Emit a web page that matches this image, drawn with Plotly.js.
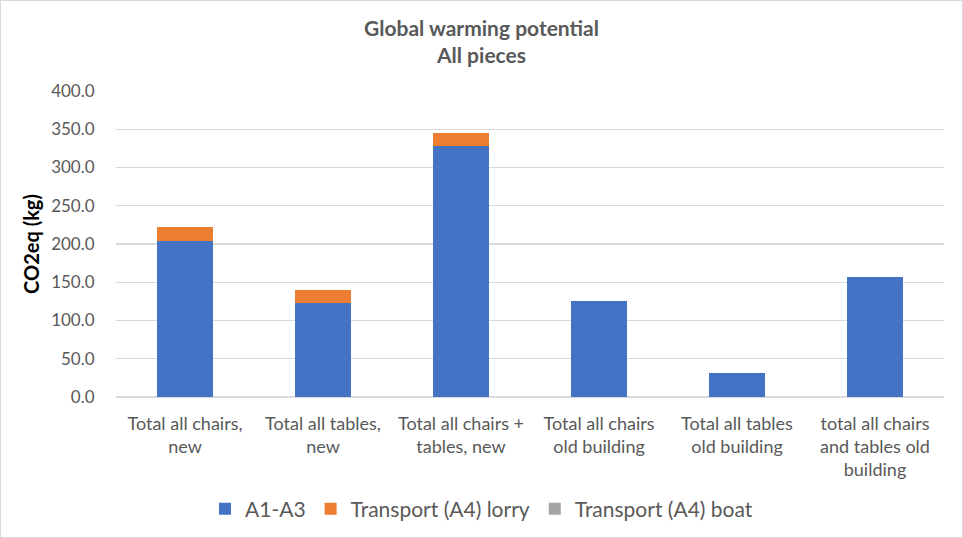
<!DOCTYPE html>
<html>
<head>
<meta charset="utf-8">
<script src="https://cdn.plot.ly/plotly-3.0.1.min.js"></script>
<style>
html,body{margin:0;padding:0;background:#fff;}
#chart{width:961px;height:536px;border:1px solid #d9d9d9;}
</style>
</head>
<body>
<div id="chart"></div>
<script>
const categories = [
  "Total all chairs,<br>new",
  "Total all tables,<br>new",
  "Total all chairs +<br>tables, new",
  "Total all chairs<br>old building",
  "Total all tables<br>old building",
  "total all chairs<br>and tables old<br>building"
];
const a1a3 = [204.0, 122.9, 328.1, 126.0, 31.0, 156.5];
const lorry = [18.2, 16.6, 17.0, 0, 0, 0];
const boat = [0, 0, 0, 0, 0, 0];
const seriesNames = ["A1-A3", "Transport (A4) lorry", "Transport (A4) boat"];
const yTicks = [0, 50, 100, 150, 200, 250, 300, 350, 400];

const font = "Lato, 'Open Sans', sans-serif";
const grey = "#595959";

const traces = [
  {type:"bar", name:seriesNames[0], x:categories, y:a1a3, marker:{color:"#4472c4"}},
  {type:"bar", name:seriesNames[1], x:categories, y:lorry, marker:{color:"#ed7d31"}},
  {type:"bar", name:seriesNames[2], x:categories, y:boat, marker:{color:"#a5a5a5"}}
];

const layout = {
  width:961, height:536,
  barmode:"stack",
  bargap:0.6,
  paper_bgcolor:"#fff", plot_bgcolor:"#fff",
  margin:{l:115, r:18, t:90, b:140},
  font:{family:font, size:18, color:grey},
  title:{
    text:"<b>Global warming potential<br>All pieces</b>",
    x:0.5, xref:"container", xanchor:"center",
    y:0.935, yref:"container", yanchor:"middle",
    font:{family:font, size:21, color:grey}
  },
  xaxis:{
    type:"category",
    showgrid:false, zeroline:false, showline:false,
    ticks:"outside", ticklen:10, tickcolor:"rgba(0,0,0,0)",
    tickfont:{family:font, size:18, color:grey},
    fixedrange:true
  },
  yaxis:{
    range:[0,400],
    tickvals:yTicks,
    ticktext:yTicks.map(v => v.toFixed(1)),
    showgrid:true, gridcolor:"#d9d9d9", gridwidth:1.3,
    zeroline:true, zerolinecolor:"#d9d9d9", zerolinewidth:1.3,
    showline:false,
    ticks:"outside", ticklen:17, tickcolor:"rgba(0,0,0,0)",
    tickfont:{family:font, size:17, color:grey},
    title:{text:"<b>CO2eq (kg)</b>", standoff:6, font:{family:font, size:20, color:"#000"}},
    fixedrange:true
  },
  legend:{
    orientation:"h",
    x:0.5, xref:"container", xanchor:"center",
    y:0.052, yref:"container", yanchor:"middle",
    traceorder:"normal",
    font:{family:font, size:21, color:grey},
    itemwidth:30
  },
  showlegend:true
};

Plotly.newPlot("chart", traces, layout, {displayModeBar:false, staticPlot:true});
</script>
</body>
</html>
